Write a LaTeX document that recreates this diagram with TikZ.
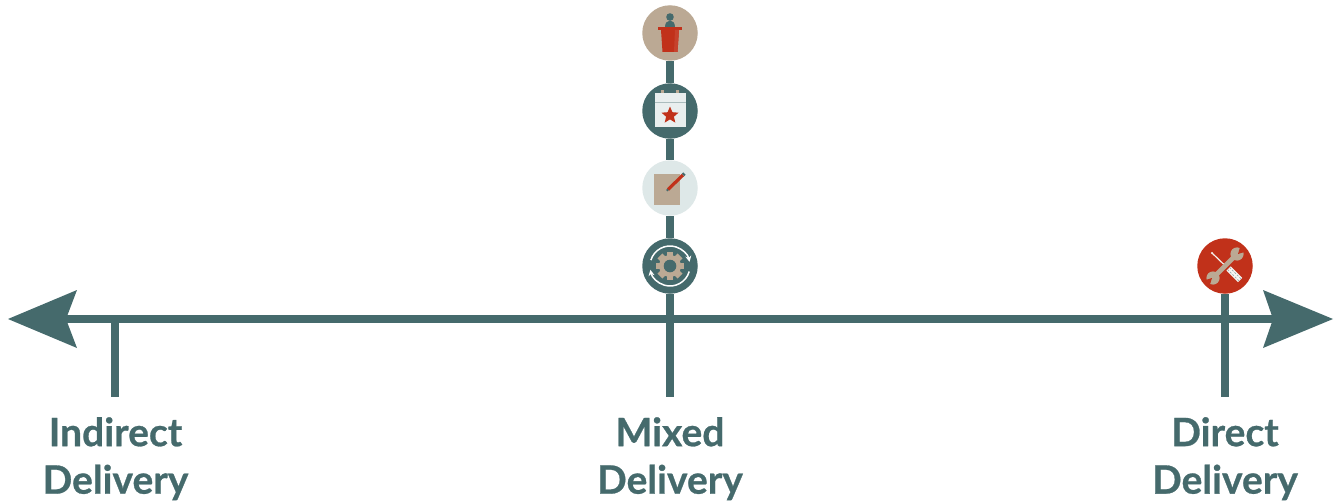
\documentclass[tikz,border=0pt]{standalone}
\usepackage{fontspec}
\setmainfont[BoldFeatures={FakeBold=0.7}]{Lato}
\usetikzlibrary{shapes.geometric,arrows.meta}
\definecolor{teal}{HTML}{456A6C}
\definecolor{tan}{HTML}{BBA994}
\definecolor{brick}{HTML}{C1311A}
\definecolor{pale}{HTML}{DEE8E8}
\definecolor{paper}{HTML}{E9EEEE}
\tikzset{
  axisline/.style={draw=teal,line width=8pt},
  badge/.style={circle,minimum size=55.5pt,inner sep=0pt,outer sep=0pt},
  scale label/.style={font=\fontsize{39}{47.5}\selectfont\bfseries,text=teal,align=center,anchor=north,inner sep=0pt},
  cycle arc/.style={white,line width=1.5pt,-{Stealth[length=6pt,width=6pt]}},
}
\begin{document}
\begin{tikzpicture}[x=1pt,y=-1pt]
\useasboundingbox (0,0) rectangle (1336,503);
% axis
\coordinate (L) at (50,319);
\coordinate (R) at (1290,319);
\coordinate (t1) at (114.5,397);
\coordinate (t2) at (670,397);
\coordinate (t3) at (1225,397);
\coordinate (a1) at (114.5,319);
\draw[axisline] (L) -- (R);
\fill[teal] (8,319) -- (77,290) -- (66,319) -- (77,348) -- cycle;
\fill[teal] (1333,319) -- (1263,290) -- (1273,319) -- (1263,348) -- cycle;
% badges
\node[badge,fill=tan] (podium) at (670,33) {};
\node[badge,fill=teal] (calendar) at (670,111) {};
\node[badge,fill=pale] (note) at (670,188) {};
\node[badge,fill=teal] (gear) at (670,266) {};
\node[badge,fill=brick] (tools) at (1225,266) {};
% connectors
\draw[axisline] (a1) -- (t1);
\draw[axisline] (gear) -- (t2);
\draw[axisline] (tools) -- (t3);
\draw[axisline] (podium.south) -- (calendar.north);
\draw[axisline] (calendar.south) -- (note.north);
\draw[axisline] (note.south) -- (gear.north);
% podium icon
\fill[teal] (670,17) circle (3.8);
\fill[teal] (665,27.5) .. controls (665,23) and (667,20.5) .. (670,20.5) .. controls (673,20.5) and (675,23) .. (675,27.5) -- cycle;
\fill[brick] (658,27) rectangle (682,30);
\fill[brick] (661,30) -- (679,30) -- (677.5,52) -- (662.5,52) -- cycle;
\fill[brick!92!white] (675,30) -- (679,30) -- (677.5,52) -- (674,52) -- cycle;
% calendar icon
\fill[paper] (654.5,93) rectangle (685.5,126.5);
\fill[tan] (661,89.5) rectangle (664,93);
\fill[tan] (676,89.5) rectangle (679,93);
\draw[teal!45!white,line width=.8pt] (654.5,102) -- (685.5,102);
\fill[brick] (670,106.5) -- (672.4,112.2) -- (678.5,112.7) -- (673.9,116.7) -- (675.3,122.6) -- (670,119.4) -- (664.7,122.6) -- (666.1,116.7) -- (661.5,112.7) -- (667.6,112.2) -- cycle;
% note icon
\fill[tan] (654,174) rectangle (679.5,205);
\draw[brick,line width=3.2pt] (668,189.5) -- (683,175);
\draw[teal,line width=3.2pt] (683,175) -- (684.4,173.6);
\draw[teal,line width=2pt] (668,189.5) -- (666.8,190.7);
% gear icon
\foreach \a in {0,45,...,315}{
  \fill[tan,rotate around={\a:(670,266)}] (666.6,251.7) rectangle (673.4,258);
}
\fill[tan] (670,266) circle (11);
\fill[teal] (670,266) circle (6.3);
\begin{scope}[shift={(670,266)},x=1pt,y=1pt]
  \draw[cycle arc] (163:20) arc[start angle=163,end angle=12,radius=20];
  \draw[cycle arc] (344:20) arc[start angle=344,end angle=191,radius=20];
\end{scope}
% tools icon
\draw[white!85!tan,line width=1.2pt] (1212,253) -- (1226,266.5);
\fill[white!85!tan] (1212,253) circle (1.2);
\draw[tan,line width=4.8pt] (1215,276) -- (1235,256);
\fill[tan] (1237,254) circle (6.6);
\fill[tan] (1213,278) circle (6.6);
\fill[brick] (1238,254) -- (1240.5,245.5) -- (1246,251.5) -- cycle;
\fill[brick] (1212,278) -- (1204,280.5) -- (1209.5,286) -- cycle;
\draw[white!90!tan,line width=6pt] (1228.5,268.5) -- (1240,280);
\draw[teal!55!white,line width=.7pt,dash pattern=on 2pt off 1.5pt] (1229.5,267.5) -- (1241,279);
\draw[teal!55!white,line width=.7pt,dash pattern=on 2pt off 1.5pt] (1227.5,269.5) -- (1239,281);
% labels
\node[scale label] (lab1) at (115.5,417) {Indirect\\Delivery};
\node[scale label] (lab2) at (670,417) {Mixed\\Delivery};
\node[scale label] (lab3) at (1225,417) {Direct\\Delivery};
\end{tikzpicture}
\end{document}
